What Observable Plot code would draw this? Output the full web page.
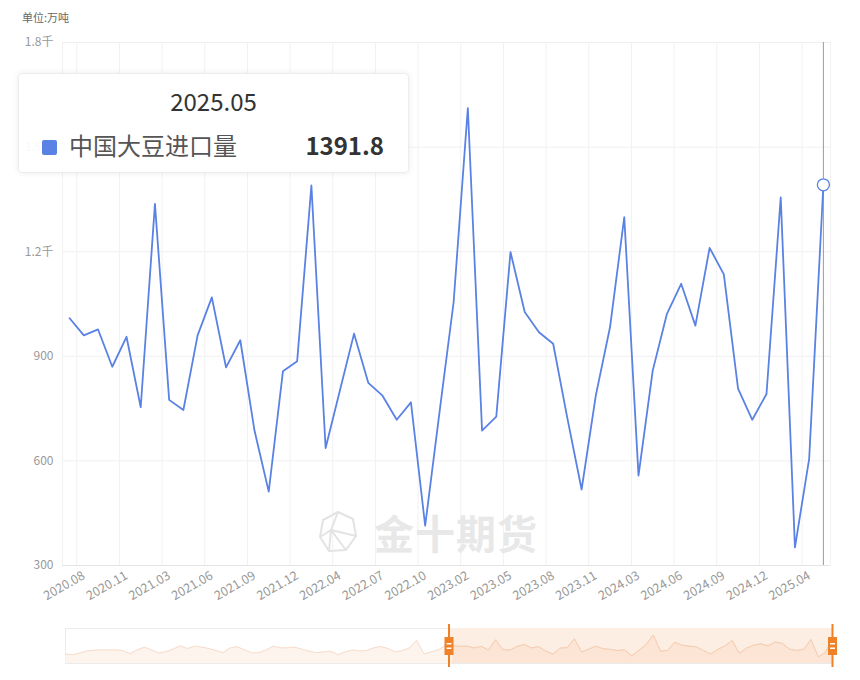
<!DOCTYPE html>
<html>
<head>
<meta charset="utf-8">
<script src="https://cdn.jsdelivr.net/npm/d3@7"></script>
<script src="https://cdn.jsdelivr.net/npm/@observablehq/plot@0.6"></script>
<style>
  html, body { margin: 0; padding: 0; background: #fff; }
  #wrap { position: relative; width: 860px; height: 680px; overflow: hidden;
          font-family: "Noto Sans CJK SC", "Noto Sans", sans-serif; }
  #unit { position: absolute; left: 22px; top: 9px; font-size: 11px; color: #666; }
  #main { position: absolute; left: 0; top: 0; }
  #zoom { position: absolute; left: 0; top: 620px; }
  #wm { position: absolute; left: 318px; top: 503px; display: flex; align-items: center; gap: 16px;
        color: #e8e8e8; font-size: 40px; font-weight: 700; letter-spacing: 1px; }
  #tip { position: absolute; left: 18px; top: 73px; width: 389px; height: 98px;
         background: rgba(255,255,255,0.93); border: 1px solid #ececec; border-radius: 4px;
         box-shadow: 0 0 6px rgba(0,0,0,0.08); }
  #tip .t { position: absolute; left: 0; right: 0; top: 10px; text-align: center;
            font-size: 24px; color: #333; line-height: 34px; }
  #tip .sw { position: absolute; left: 23px; top: 66px; width: 15px; height: 15px; border-radius: 2px; }
  #tip .n { position: absolute; left: 50px; top: 54px; font-size: 24px; color: #555; line-height: 34px; }
  #tip .v { position: absolute; right: 24px; top: 54px; font-size: 24px; color: #333; font-weight: 700; line-height: 34px; }
</style>
</head>
<body>
<div id="wrap">
  <div id="main"></div>
  <div id="zoom"></div>
  <div id="unit">单位:万吨</div>
  <div id="wm">
    <svg width="40" height="44" viewBox="0 0 40 44">
      <g fill="none" stroke="#e3e3e3" stroke-width="2" stroke-linejoin="round">
        <polygon points="20,2 35,9 38,26 28,40 11,41 2,27 5,10"/>
        <polyline points="20,2 13,20 28,40"/>
        <polyline points="13,20 38,26"/>
        <polyline points="13,20 2,27"/>
        <polyline points="13,20 11,41"/>
      </g>
    </svg>
    <span>金十期货</span>
  </div>
  <div id="tip">
    <div class="t" id="tipT"></div>
    <div class="sw" id="tipS"></div>
    <div class="n" id="tipN"></div>
    <div class="v" id="tipV"></div>
  </div>
</div>
<script>
// ---- data ----
const seriesName = "中国大豆进口量";
const months = [
  "2020.07","2020.08","2020.09","2020.10","2020.11","2020.12",
  "2021.02","2021.03","2021.04","2021.05","2021.06","2021.07","2021.08","2021.09","2021.10","2021.11","2021.12",
  "2022.02","2022.03","2022.04","2022.05","2022.06","2022.07","2022.08","2022.09","2022.10","2022.11","2022.12",
  "2023.02","2023.03","2023.04","2023.05","2023.06","2023.07","2023.08","2023.09","2023.10","2023.11","2023.12",
  "2024.02","2024.03","2024.04","2024.05","2024.06","2024.07","2024.08","2024.09","2024.10","2024.11","2024.12",
  "2025.02","2025.03","2025.04","2025.05"
];
const imports = [
  1009, 960, 977, 870, 956, 754,
  1337, 775, 746, 960, 1069, 868, 946, 687, 512, 857, 886,
  1390, 637, 801, 965, 824, 787, 718, 768, 414, 737, 1055,
  1612, 687, 727, 1199, 1027, 969, 936, 722, 518, 788, 984,
  1299, 558, 859, 1022, 1108, 988, 1211, 1135, 807, 718, 792,
  1356, 352, 606, 1391.8
];
const xTickLabels = ["2020.08","2020.11","2021.03","2021.06","2021.09","2021.12","2022.04","2022.07","2022.10",
  "2023.02","2023.05","2023.08","2023.11","2024.03","2024.06","2024.09","2024.12","2025.04"];
const yTicks = [300, 600, 900, 1200, 1500, 1800];
// earlier history shown only in the data-zoom shadow (read roughly from the slider)
const historyShadow = [522, 483, 581, 699, 738, 758, 758, 758, 718, 541, 758, 915, 758, 581, 659, 797, 993, 836,
  973, 915, 836, 718, 600, 876, 935, 758, 581, 600, 758, 973, 876, 876, 915, 797, 679, 600, 640, 679, 483, 640,
  758, 699, 718, 876, 954, 836, 640, 718, 876, 1308, 522, 640, 758, 993];
const zoomRangePct = [50, 100];

// ---- styles ----
const blue = "#5a82e4";
const orange = "#ef8129";
const fontFamily = '"Noto Sans CJK SC", "Noto Sans", sans-serif';

// ---- main chart ----
const data = months.map((m, i) => ({month: m, value: imports[i]}));
const last = data[data.length - 1];
const W = 860, H = 600, mL = 62, mR = 30, mT = 42, mB = 35;
const step = (W - mL - mR) / months.length;
const fmtY = d => d >= 1000 ? (d / 1000) + "千" : String(d);

const chart = Plot.plot({
  width: W, height: H,
  marginTop: mT, marginLeft: mL, marginRight: mR, marginBottom: mB,
  style: {fontFamily, fontSize: "12px", color: "#999", background: "transparent", overflow: "visible"},
  x: {type: "point", domain: months, padding: 0.5, round: false},
  y: {domain: [yTicks[0], yTicks[yTicks.length - 1]]},
  marks: [
    Plot.ruleY(yTicks.slice(1), {stroke: "#efefef"}),
    Plot.ruleX([months[0], ...xTickLabels], {dx: -step / 2, stroke: "#f1f1f1"}),
    Plot.ruleX([months[months.length - 1]], {dx: step / 2, stroke: "#f1f1f1"}),
    Plot.ruleY([yTicks[0]], {stroke: "#e4e4e4"}),
    Plot.axisY({ticks: yTicks, tickSize: 0, tickPadding: 9, tickFormat: fmtY, label: null, fill: "#999"}),
    Plot.axisX({ticks: xTickLabels, tickSize: 0, tickPadding: 9, tickRotate: -30, label: null, fill: "#999", fontSize: 12.5}),
    Plot.ruleX([last], {x: "month", y1: yTicks[0], y2: yTicks[yTicks.length - 1], stroke: "#9a9a9a", strokeWidth: 1}),
    Plot.line(data, {x: "month", y: "value", stroke: blue, strokeWidth: 1.8, curve: "linear"}),
    Plot.dot([last], {x: "month", y: "value", r: 6, stroke: blue, fill: "#fff", strokeWidth: 1.3})
  ]
});
document.getElementById("main").appendChild(chart);

// ---- tooltip ----
document.getElementById("tipT").textContent = last.month;
document.getElementById("tipS").style.background = blue;
document.getElementById("tipN").textContent = seriesName;
document.getElementById("tipV").textContent = String(last.value);

// ---- data zoom slider ----
const shadowVals = historyShadow.concat(imports);
const shadow = shadowVals.map((v, i) => ({i, v}));
const N = shadowVals.length;
const vMin = d3.min(shadowVals), vMax = d3.max(shadowVals);
const pad = (vMax - vMin) * 0.3;
const yDom = [vMin - pad, vMax + pad];
const zH = 50, zT = 8, zB = 7;
const unitPerPx = (yDom[1] - yDom[0]) / (zH - zT - zB);
const zStart = zoomRangePct[0] / 100 * (N - 1);
const zEnd = zoomRangePct[1] / 100 * (N - 1);
const selected = shadow.filter(d => d.i >= zStart);
const handleMid = yDom[0] + 17 * unitPerPx;

const zoom = Plot.plot({
  width: W, height: zH, marginTop: zT, marginBottom: zB, marginLeft: 65, marginRight: 28,
  style: {background: "transparent", overflow: "visible", fontFamily},
  x: {domain: [0, N - 1], axis: null},
  y: {domain: yDom, axis: null},
  marks: [
    Plot.frame({stroke: "#ebebeb"}),
    Plot.rect([{a: zStart, b: zEnd}], {x1: "a", x2: "b", fill: "#fdeee4"}),
    Plot.areaY(shadow, {x: "i", y1: yDom[0], y2: "v", fill: "#fdf1e8", fillOpacity: 0.8}),
    Plot.lineY(shadow, {x: "i", y: "v", stroke: "#f8dccb", strokeWidth: 1}),
    Plot.areaY(selected, {x: "i", y1: yDom[0], y2: "v", fill: "#fbe2cf", fillOpacity: 0.8}),
    Plot.lineY(selected, {x: "i", y: "v", stroke: "#f6cdb0", strokeWidth: 1}),
    Plot.ruleX([zStart, zEnd], {y1: yDom[0] - 4 * unitPerPx, y2: yDom[1] + 4 * unitPerPx, stroke: orange, strokeWidth: 2}),
    Plot.ruleX([zStart, zEnd], {y1: handleMid - 9 * unitPerPx, y2: handleMid + 9 * unitPerPx, stroke: orange, strokeWidth: 9}),
    Plot.ruleX([zStart, zEnd], {y1: handleMid - 1.5 * unitPerPx, y2: handleMid - 3 * unitPerPx, stroke: "#fff", strokeWidth: 5}),
    Plot.ruleX([zStart, zEnd], {y1: handleMid + 1.5 * unitPerPx, y2: handleMid + 3 * unitPerPx, stroke: "#fff", strokeWidth: 5})
  ]
});
document.getElementById("zoom").appendChild(zoom);
</script>
</body>
</html>
